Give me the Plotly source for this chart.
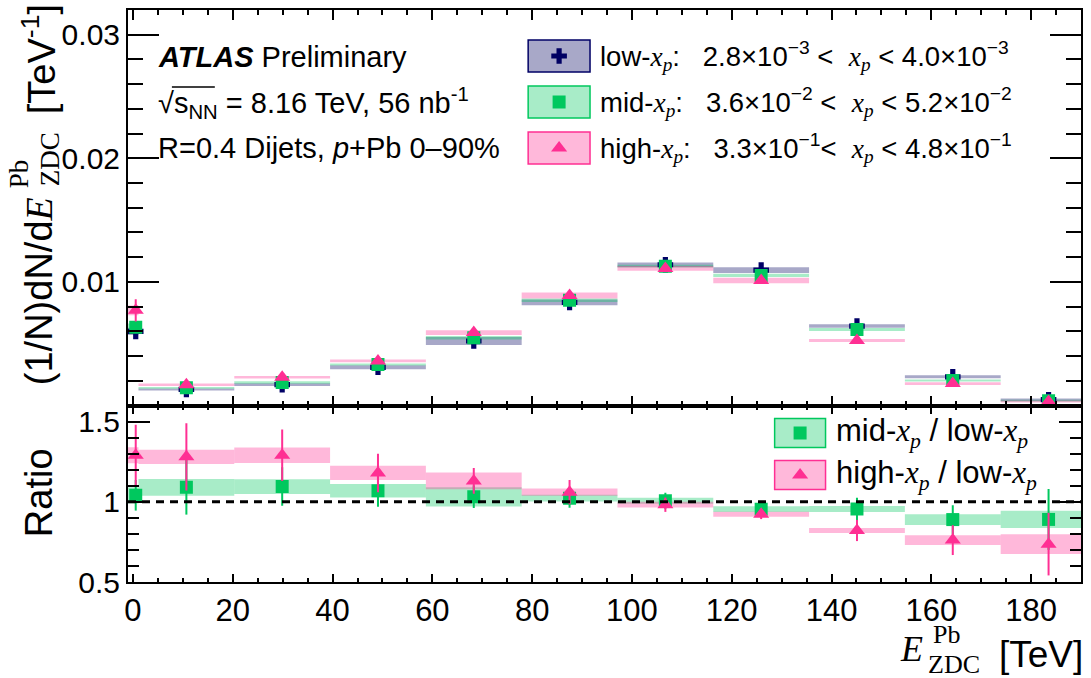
import plotly.graph_objects as go

# ---------------- data ----------------
bin_lo = [-1.0, 1.1, 20.3, 39.5, 58.7, 77.9, 97.1, 116.3, 135.5, 154.7, 173.9]
bin_hi = [1.1, 20.3, 39.5, 58.7, 77.9, 97.1, 116.3, 135.5, 154.7, 173.9, 193.1]
e_zdc = [0.55, 10.7, 29.9, 49.1, 68.3, 87.5, 106.7, 125.9, 145.1, 164.3, 183.5]

low_xp = [0.0060, 0.00130, 0.00169, 0.00309, 0.00522, 0.00834, 0.01139, 0.01096, 0.00643, 0.00232, 0.00047]
low_xp_stat = [0.0003, 0.00004, 0.00005, 0.00006, 0.00008, 0.0001, 0.00012, 0.00012, 0.0001, 0.00006, 0.00003]
low_xp_syst = [0.0003, 0.00008, 0.00012, 0.00016, 0.00032, 0.00023, 0.00019, 0.00023, 0.00014, 0.00012, 0.0001]

mid_xp = [0.00633, 0.00143, 0.00186, 0.00331, 0.00549, 0.00852, 0.01127, 0.01052, 0.00615, 0.00203, 0.00039]
mid_xp_stat = [0.0004, 0.00005, 0.00006, 0.00007, 0.0001, 0.00012, 0.00014, 0.00014, 0.00012, 0.00008, 0.00005]
mid_xp_syst = [0.0003, 0.00007, 0.0001, 0.00008, 0.00014, 0.00014, 0.00012, 0.00013, 0.00012, 0.00008, 0.00008]

high_xp = [0.0077, 0.00167, 0.00229, 0.00361, 0.00590, 0.00890, 0.01109, 0.01011, 0.00526, 0.00177, 0.00033]
high_xp_stat = [0.0009, 0.0001, 0.0001, 0.0001, 0.00012, 0.00015, 0.00015, 0.00015, 0.0001, 0.00008, 0.00005]
high_xp_syst = [0.0004, 0.0001, 0.0001, 0.00012, 0.00019, 0.00024, 0.00019, 0.00022, 0.00012, 0.00011, 0.00008]

ratio_mid = [1.04, 1.09, 1.095, 1.069, 1.031, 1.022, 1.006, 0.954, 0.955, 0.889, 0.89]
ratio_mid_stat = [0.095, 0.17, 0.12, 0.10, 0.07, 0.06, 0.05, 0.03, 0.07, 0.09, 0.19]
ratio_mid_syst = [0.05, 0.052, 0.046, 0.042, 0.06, 0.021, 0.019, 0.018, 0.018, 0.034, 0.054]

ratio_high = [1.29, 1.28, 1.29, 1.18, 1.13, 1.06, 0.982, 0.922, 0.821, 0.761, 0.736]
ratio_high_stat = [0.19, 0.21, 0.16, 0.12, 0.08, 0.076, 0.045, 0.03, 0.066, 0.093, 0.195]
ratio_high_syst = [0.05, 0.044, 0.048, 0.044, 0.052, 0.023, 0.018, 0.016, 0.015, 0.031, 0.062]

x_ticks = [0, 20, 40, 60, 80, 100, 120, 140, 160, 180]
y_ticks_top = [0.01, 0.02, 0.03]
y_ticks_top_text = ["0.01", "0.02", "0.03"]
y_ticks_ratio = [0.5, 1.0, 1.5]
y_ticks_ratio_text = ["0.5", "1", "1.5"]

# ---------------- style ----------------
NAVY = "#000066"
GREEN = "#00c85e"
PINK = "#ff2f93"
NAVY_F = "rgba(0,0,94,0.34)"
GREEN_F = "rgba(0,200,94,0.34)"
PINK_F = "rgba(255,47,147,0.34)"
SANS = "Liberation Sans, Arial, sans-serif"
SERIF = "Liberation Serif"
TRI = 14
SQ = 13

centers = [(a + b) / 2 for a, b in zip(bin_lo, bin_hi)]
widths = [b - a for a, b in zip(bin_lo, bin_hi)]

fig = go.Figure()


def add_boxes(vals, syst, fill, xa, ya):
    fig.add_trace(go.Bar(
        x=centers, y=[2 * s for s in syst], base=[v - s for v, s in zip(vals, syst)],
        width=widths, marker=dict(color=fill, line=dict(width=0)),
        xaxis=xa, yaxis=ya, showlegend=False, hoverinfo="skip"))


def add_points(vals, stat, color, symbol, size, xa, ya):
    fig.add_trace(go.Scatter(
        x=e_zdc, y=vals, mode="markers",
        marker=dict(symbol=symbol, size=size, color=color, line=dict(width=0)),
        error_y=dict(type="data", array=stat, color=color, thickness=2, width=0),
        xaxis=xa, yaxis=ya, showlegend=False, hoverinfo="skip"))


# top panel
add_boxes(low_xp, low_xp_syst, NAVY_F, "x", "y")
add_boxes(mid_xp, mid_xp_syst, GREEN_F, "x", "y")
add_boxes(high_xp, high_xp_syst, PINK_F, "x", "y")
add_points(low_xp, low_xp_stat, NAVY, "cross", SQ, "x", "y")
add_points(mid_xp, mid_xp_stat, GREEN, "square", SQ, "x", "y")
add_points(high_xp, high_xp_stat, PINK, "triangle-up", TRI, "x", "y")

# ratio panel
add_boxes(ratio_mid, ratio_mid_syst, GREEN_F, "x2", "y2")
add_boxes(ratio_high, ratio_high_syst, PINK_F, "x2", "y2")
add_points(ratio_mid, ratio_mid_stat, GREEN, "square", SQ, "x2", "y2")
add_points(ratio_high, ratio_high_stat, PINK, "triangle-up", TRI, "x2", "y2")

# ---------------- overlay (pixel) axis for legend symbols ----------------
L, R, T, B = 128, 8, 10, 96
W, H = 1091, 678
PW, PH = W - L - R, H - B - T
split = (H - B - 405.5) / PH


def px(x):
    return (x - L) / PW


def py(y):
    return (H - B - y) / PH


leg_top = [(56, NAVY, NAVY_F, "cross"), (102, GREEN, GREEN_F, "square"), (148, PINK, PINK_F, "triangle-up")]
leg_rat = [(433, GREEN, GREEN_F, "square"), (475, PINK, PINK_F, "triangle-up")]

shapes = []
for yc, c, f, s in leg_top:
    shapes.append(dict(type="rect", xref="x3", yref="y3", x0=529, x1=591, y0=yc - 16, y1=yc + 16,
                       fillcolor=f, line=dict(color=c, width=1.5), layer="above"))
    fig.add_trace(go.Scatter(x=[560], y=[yc], mode="markers", xaxis="x3", yaxis="y3",
                             marker=dict(symbol=s, size=TRI if s == "triangle-up" else SQ, color=c, line=dict(width=0)),
                             showlegend=False, hoverinfo="skip"))
for yc, c, f, s in leg_rat:
    shapes.append(dict(type="rect", xref="x3", yref="y3", x0=776, x1=827, y0=yc - 14.5, y1=yc + 14.5,
                       fillcolor=f, line=dict(color=c, width=1.5), layer="above"))
    fig.add_trace(go.Scatter(x=[801.5], y=[yc], mode="markers", xaxis="x3", yaxis="y3",
                             marker=dict(symbol=s, size=TRI if s == "triangle-up" else SQ, color=c, line=dict(width=0)),
                             showlegend=False, hoverinfo="skip"))

# dashed unity line in ratio panel
shapes.append(dict(type="line", xref="x2 domain", yref="y2", x0=0, x1=1, y0=1, y1=1,
                   line=dict(color="black", width=3, dash="8px,6px"), layer="above"))
# overbar of the square root
shapes.append(dict(type="line", xref="x3", yref="y3", x0=172, x1=215, y0=87, y1=87,
                   line=dict(color="black", width=1.5), layer="above"))


def serif(t):
    return '<span style="font-family:%s">%s</span>' % (SERIF, t)


XP = serif("<i>x</i><sub><i>p</i></sub>")
NB = "\u00a0"

ann = []


def text(x, y, t, size=29, xanchor="left", yanchor="middle", angle=0, family=SANS):
    ann.append(dict(x=px(x), y=py(y), xref="paper", yref="paper", text=t, showarrow=False, xanchor=xanchor,
                    yanchor=yanchor, textangle=angle, borderpad=0,
                    font=dict(family=family, size=size, color="black")))


text(157, 57, "<b><i>ATLAS</i></b> Preliminary")
text(157, 103, "\u221a<span>s</span><sub>NN</sub> = 8.16 TeV, 56 nb<sup>-1</sup>")
text(157, 148, "R=0.4 Dijets, <i>p</i>+Pb 0\u201390%")

LS = 27.5
text(600, 56, "low-" + XP + ":" + NB + NB + " 2.8\u00d710<sup>\u22123</sup> &lt;" + NB + " " + XP + " &lt; 4.0\u00d710<sup>\u22123</sup>", size=LS)
text(600, 102, "mid-" + XP + ":" + NB + NB + " 3.6\u00d710<sup>\u22122</sup> &lt;" + NB + " " + XP + " &lt; 5.2\u00d710<sup>\u22122</sup>", size=LS)
text(600, 148, "high-" + XP + ":" + NB + NB + " 3.3\u00d710<sup>\u22121</sup>&lt;" + NB + " " + XP + " &lt; 4.8\u00d710<sup>\u22121</sup>", size=LS)

text(836, 433, "mid-" + XP + " / low-" + XP, size=31)
text(836, 475, "high-" + XP + " / low-" + XP, size=31)

# y title (top panel)
text(39, 386, "(1/N)dN/d" + serif("<i>E</i>"), size=38, xanchor="center", yanchor="bottom", angle=-90)
text(19, 174, "Pb", size=27, xanchor="center", yanchor="middle", angle=-90, family=SERIF)
text(50, 159, "ZDC", size=27, xanchor="center", yanchor="middle", angle=-90, family=SERIF)
text(39, 3, "[TeV<sup>-1</sup>]", size=38, xanchor="center", yanchor="top", angle=-90)
# y title (ratio panel)
text(39, 493, "Ratio", size=38, xanchor="center", yanchor="middle", angle=-90)
# x title
text(901, 649, "<i>E</i>", size=36, xanchor="left", yanchor="middle", family=SERIF)
text(948, 634, "Pb", size=26, xanchor="center", yanchor="middle", family=SERIF)
text(956, 664, "ZDC", size=26, xanchor="center", yanchor="middle", family=SERIF)
text(1086, 654, "[TeV]", size=37, xanchor="right", yanchor="middle")

axis_common = dict(showline=True, linecolor="black", linewidth=2, mirror="allticks", ticks="inside",
                   tickcolor="black", tickwidth=2, showgrid=False, zeroline=False)

fig.update_layout(
    width=W, height=H, margin=dict(l=L, r=R, t=T, b=B),
    paper_bgcolor="white", plot_bgcolor="rgba(0,0,0,0)",
    barmode="overlay", showlegend=False,
    xaxis=dict(domain=[0, 1], anchor="y", range=[-1, 190], tickmode="array", tickvals=x_ticks,
               showticklabels=False, ticklen=10,
               minor=dict(tickmode="linear", tick0=0, dtick=5, ticklen=5, tickwidth=2, tickcolor="black", ticks="inside"),
               **axis_common),
    yaxis=dict(domain=[split, 1], anchor="x", range=[0, 0.032], tickmode="array", tickvals=y_ticks_top,
               ticktext=y_ticks_top_text, ticklen=31,
               tickfont=dict(family=SANS, size=30, color="black"),
               minor=dict(tickmode="linear", tick0=0, dtick=0.002, ticklen=15, tickwidth=2, tickcolor="black", ticks="inside"),
               **axis_common),
    xaxis2=dict(domain=[0, 1], anchor="y2", range=[-1, 190], tickmode="array", tickvals=x_ticks,
                ticktext=[str(v) for v in x_ticks], ticklen=8,
                tickfont=dict(family=SANS, size=31, color="black"),
                minor=dict(tickmode="linear", tick0=0, dtick=5, ticklen=4, tickwidth=2, tickcolor="black", ticks="inside"),
                **axis_common),
    yaxis2=dict(domain=[0, split], anchor="x2", range=[0.5, 1.6], tickmode="array", tickvals=y_ticks_ratio,
                ticktext=y_ticks_ratio_text, ticklen=22,
                tickfont=dict(family=SANS, size=30, color="black"),
                minor=dict(tickmode="linear", tick0=0, dtick=0.1, ticklen=11, tickwidth=2, tickcolor="black", ticks="inside"),
                **axis_common),
    xaxis3=dict(domain=[0, 1], anchor="y3", range=[L, W - R], visible=False, fixedrange=True),
    yaxis3=dict(domain=[0, 1], anchor="x3", range=[H - B, T], visible=False, fixedrange=True),
    shapes=shapes, annotations=ann,
)

fig.write_html("out.html")
